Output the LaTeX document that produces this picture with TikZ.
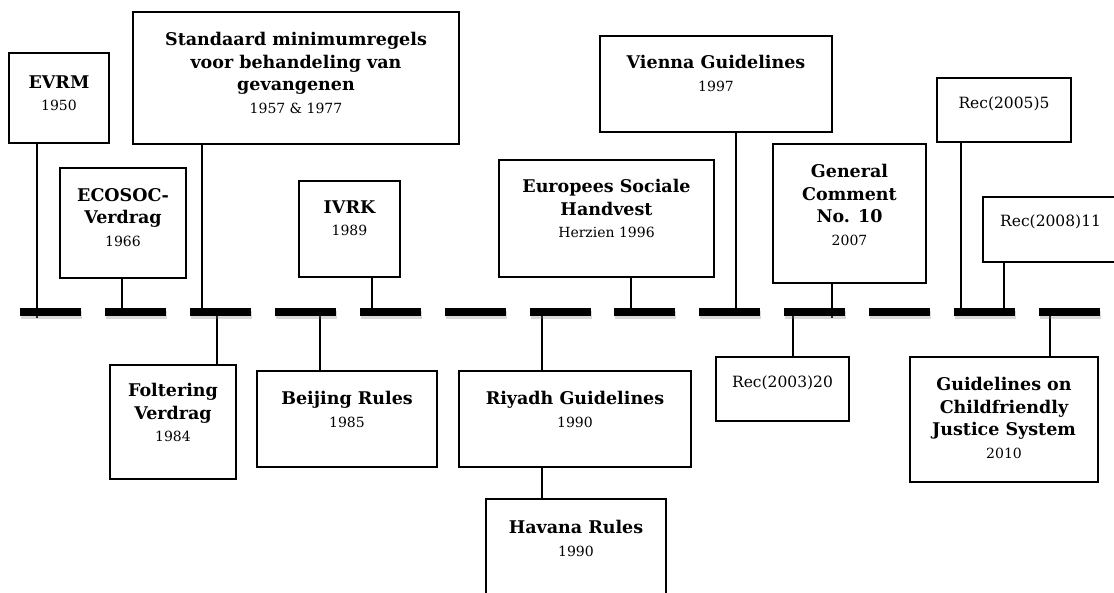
\documentclass[tikz,border=0pt]{standalone}
\usepackage{fontspec}
\setmainfont{DejaVu Serif}
\usetikzlibrary{positioning,shadows}
\newcommand\yr[1]{{\mdseries\fontsize{14}{22.5}\selectfont #1}}
\begin{document}
\begin{tikzpicture}[x=1pt,y=-1pt]
        \tikzstyle{box}=[rectangle, draw=black, line width=1.6pt, inner sep=0pt]
        \tikzstyle{ttl}=[align=center, inner sep=0pt, font=\bfseries\fontsize{17.5}{22.5}\selectfont]
        \tikzstyle{rec}=[inner sep=0pt, font=\fontsize{15.5}{18}\selectfont]
        \tikzstyle{bar}=[fill=black, drop shadow={opacity=0.3, shadow xshift=1pt, shadow yshift=-3pt}]
        \tikzstyle{link}=[line width=1.4pt]

        \useasboundingbox (0,0) rectangle (1114,592);

        % Boxes above the line
        \node[box, minimum width=100, minimum height=90] (evrm) at (59,98) {};
        \node[ttl, below=23pt of evrm.north] (evrm-t) {EVRM\\\yr{1950}};

        \node[box, minimum width=126, minimum height=110] (ecosoc) at (123,223) {};
        \node[ttl, below=21pt of ecosoc.north] (ecosoc-t) {ECOSOC-\\Verdrag\\\yr{1966}};

        \node[box, minimum width=326, minimum height=132] (smr) at (296,78) {};
        \node[ttl, below=21pt of smr.north] (smr-t) {Standaard minimumregels\\voor behandeling van\\gevangenen\\\yr{1957 \& 1977}};

        \node[box, minimum width=101, minimum height=96] (ivrk) at (349.5,229) {};
        \node[ttl, below=20pt of ivrk.north] (ivrk-t) {IVRK\\\yr{1989}};

        \node[box, minimum width=215, minimum height=117] (esh) at (606.5,218.5) {};
        \node[ttl, below=20pt of esh.north] (esh-t) {Europees Sociale\\Handvest\\\yr{Herzien 1996}};

        \node[box, minimum width=232, minimum height=96] (vienna) at (716,84) {};
        \node[ttl, below=20pt of vienna.north] (vienna-t) {Vienna Guidelines\\\yr{1997}};

        \node[box, minimum width=153, minimum height=139] (gc) at (849.5,213.5) {};
        \node[ttl, below=21pt of gc.north] (gc-t) {General\\Comment\\No. 10\\\yr{2007}};

        \node[box, minimum width=134, minimum height=64] (rec5) at (1004,110) {};
        \node[rec, below=19pt of rec5.north] (rec5-t) {Rec(2005)5};

        \node[box, minimum width=142, minimum height=65] (rec11) at (1054,229.5) {};
        \node[rec, anchor=north west] (rec11-t) at (1000,215) {Rec(2008)11};

        % Boxes below the line
        \node[box, minimum width=126, minimum height=114] (folt) at (173,422) {};
        \node[ttl, below=19pt of folt.north] (folt-t) {Foltering\\Verdrag\\\yr{1984}};

        \node[box, minimum width=180, minimum height=96] (beij) at (347,419) {};
        \node[ttl, below=21pt of beij.north] (beij-t) {Beijing Rules\\\yr{1985}};

        \node[box, minimum width=232, minimum height=96] (riyadh) at (575,419) {};
        \node[ttl, below=21pt of riyadh.north] (riyadh-t) {Riyadh Guidelines\\\yr{1990}};

        \node[box, minimum width=180, minimum height=101] (havana) at (576,549.5) {};
        \node[ttl, below=22pt of havana.north] (havana-t) {Havana Rules\\\yr{1990}};

        \node[box, minimum width=133, minimum height=64] (rec3) at (782.5,389) {};
        \node[rec, below=19pt of rec3.north] (rec3-t) {Rec(2003)20};

        \node[box, minimum width=188, minimum height=125] (guide) at (1004,419.5) {};
        \node[ttl, below=21pt of guide.north] (guide-t) {Guidelines on\\Childfriendly\\Justice System\\\yr{2010}};

        % Points on the time line
        \coordinate (t-evrm) at (37,318);
        \coordinate (t-ecosoc) at (122,312);
        \coordinate (t-smr) at (202,312);
        \coordinate (t-ivrk) at (372,312);
        \coordinate (t-esh) at (631,312);
        \coordinate (t-vienna) at (736,312);
        \coordinate (t-gc) at (832,318);
        \coordinate (t-rec5) at (961,312);
        \coordinate (t-rec11) at (1004,312);
        \coordinate (t-folt) at (217,312);
        \coordinate (t-beij) at (320,312);
        \coordinate (t-riyadh) at (542,312);
        \coordinate (t-rec3) at (793,312);
        \coordinate (t-guide) at (1050,312);

        % Links
        \draw[link] (evrm.south -| t-evrm) -- (t-evrm);
        \draw[link] (ecosoc.south -| t-ecosoc) -- (t-ecosoc);
        \draw[link] (smr.south -| t-smr) -- (t-smr);
        \draw[link] (ivrk.south -| t-ivrk) -- (t-ivrk);
        \draw[link] (esh.south -| t-esh) -- (t-esh);
        \draw[link] (vienna.south -| t-vienna) -- (t-vienna);
        \draw[link] (gc.south -| t-gc) -- (t-gc);
        \draw[link] (rec5.south -| t-rec5) -- (t-rec5);
        \draw[link] (rec11.south -| t-rec11) -- (t-rec11);
        \draw[link] (t-folt) -- (folt.north -| t-folt);
        \draw[link] (t-beij) -- (beij.north -| t-beij);
        \draw[link] (t-riyadh) -- (riyadh.north -| t-riyadh);
        \draw[link] (riyadh.south -| t-riyadh) -- (havana.north -| t-riyadh);
        \draw[link] (t-rec3) -- (rec3.north -| t-rec3);
        \draw[link] (t-guide) -- (guide.north -| t-guide);

        % Time line
        \foreach \i in {0,...,12}
            \fill[bar] ({20+84.92*\i},308) rectangle +(61,8);

    \end{tikzpicture}
\end{document}
